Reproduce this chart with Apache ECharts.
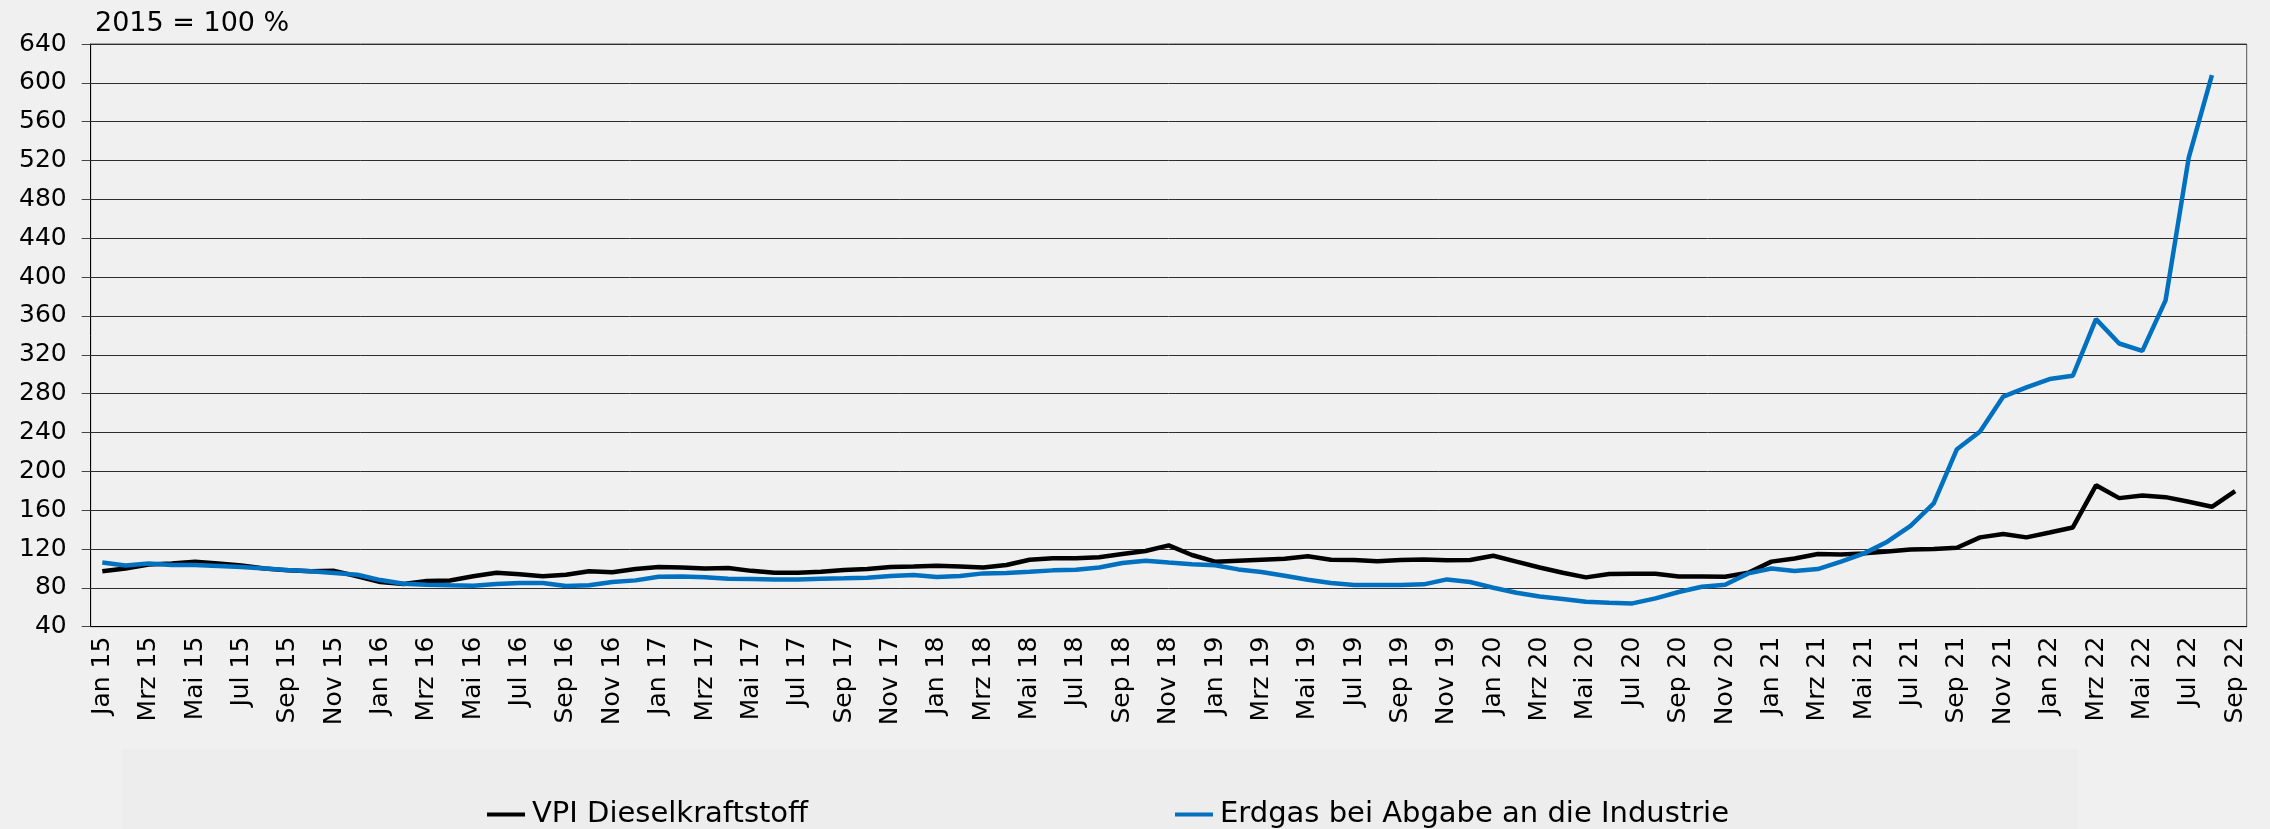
<!DOCTYPE html>
<html>
<head>
<meta charset="utf-8">
<script src="https://cdn.jsdelivr.net/npm/echarts@6/dist/echarts.min.js"></script>
<style>
  html, body { margin: 0; padding: 0; background: #f0f0f0; }
  #chart { width: 2270px; height: 829px; }
</style>
</head>
<body>
<div id="chart"></div>
<script>
const MONTHS = ['Jan', 'Feb', 'Mrz', 'Apr', 'Mai', 'Jun', 'Jul', 'Aug', 'Sep', 'Okt', 'Nov', 'Dez']
const YEARS = ['15', '16', '17', '18', '19', '20', '21', '22']

// Jan 15 .. Sep 22
const categories = []
YEARS.forEach((y, yi) => {
  MONTHS.forEach((m, mi) => {
    if (yi === YEARS.length - 1 && mi > 8) return
    categories.push(m + ' ' + y)
  })
})

const diesel = [
  97, 100, 104, 105, 107, 105, 103, 100, 98, 97, 97.5, 92,
  86, 84, 87, 87.5, 92, 95.5, 94, 92, 93.5, 97, 96, 99.5,
  101.5, 101, 100, 100.5, 97.5, 95.5, 95.5, 96.5, 98.5, 99.5, 101.5, 102,
  102.8, 102, 101, 103.5, 109, 110.5, 110.5, 111.5, 114.8, 118, 123.7, 113.8,
  107, 108, 109, 110, 112.5, 109, 108.6, 107.3, 108.6, 109.3, 108.4, 108.6,
  113, 107, 101, 95.6, 90.8, 94.2, 94.5, 94.5, 91.8, 91.8, 91.5, 95.6,
  107, 110.3, 114.8, 114.4, 115.5, 117.5, 119.6, 120, 121.3, 132, 135.4, 132,
  137, 142.2, 185.6, 172.4, 175, 173.4, 168.6, 163.5, 179.6
]

const erdgas = [
  106, 103, 105, 103.5, 103.5, 102.5, 101.4, 100, 98.4, 97, 95.3, 93.5,
  88, 84.3, 83.3, 82.6, 82.2, 83.9, 85, 85, 82, 82.6, 86, 87.7,
  91.5, 91.8, 90.8, 89.4, 89.1, 88.7, 88.7, 89.4, 89.8, 90.5, 92.2, 93.2,
  91.1, 92.2, 94.9, 95.3, 96.6, 98, 98.7, 101, 105.6, 108, 106, 104.2,
  103.2, 99, 96.3, 92.5, 88.4, 85, 83, 83, 83, 83.6, 88.7, 86,
  80.1, 75, 71, 68.5, 65.7, 64.7, 64, 69.2, 75.7, 81.2, 83.2, 94.9,
  100, 97.3, 99.3, 106.9, 115.5, 127.5, 143.9, 166.9, 222.8, 241, 277, 286.4,
  295, 298.4, 356.7, 331.6, 324, 376, 523, 608
]

const SERIES_NAMES = ['VPI Dieselkraftstoff', 'Erdgas bei Abgabe an die Industrie']
const COLORS = ['#000000', '#0070c0']
const FONT = 'DejaVu Sans'

const chart = echarts.init(document.getElementById('chart'))

const legendItem = (idx, left) => ({
  data: [SERIES_NAMES[idx]],
  left: left,
  top: 795,
  icon: 'rect',
  itemWidth: 38,
  itemHeight: 4,
  itemGap: 0,
  selectedMode: false,
  textStyle: { fontFamily: FONT, fontSize: 29, color: '#000', padding: [0, 0, 0, 2] }
})

chart.setOption({
  backgroundColor: '#f0f0f0',
  animation: false,
  title: {
    text: '2015 = 100 %',
    left: 90,
    top: 5,
    textStyle: { fontFamily: FONT, fontSize: 27, fontWeight: 'normal', color: '#000' }
  },
  graphic: [{
    type: 'rect',
    shape: { x: 122, y: 749, width: 1956, height: 80 },
    style: { fill: '#ededed' },
    z: -1
  }],
  legend: [legendItem(0, 482), legendItem(1, 1170)],
  grid: {
    left: 90.7,
    right: 23.3,
    top: 44,
    bottom: 202.3,
    show: true,
    borderColor: '#555',
    borderWidth: 1
  },
  xAxis: {
    type: 'category',
    data: categories,
    boundaryGap: true,
    axisLine: { lineStyle: { color: '#000', width: 1 } },
    axisTick: { interval: 0, length: 8, lineStyle: { color: '#666' } },
    axisLabel: {
      interval: 1,
      rotate: 90,
      margin: 10,
      fontFamily: FONT,
      fontSize: 25,
      color: '#000'
    }
  },
  yAxis: {
    type: 'value',
    min: 40,
    max: 640,
    interval: 40,
    axisLine: { show: true, lineStyle: { color: '#000', width: 1 } },
    axisTick: { show: true, length: 9, lineStyle: { color: '#444' } },
    axisLabel: { margin: 24, fontFamily: FONT, fontSize: 25, color: '#000' },
    splitLine: { lineStyle: { color: '#2e2e2e', width: 1 } }
  },
  series: [
    {
      name: SERIES_NAMES[0],
      type: 'line',
      data: diesel,
      symbol: 'none',
      lineStyle: { color: COLORS[0], width: 4.5 },
      itemStyle: { color: COLORS[0] }
    },
    {
      name: SERIES_NAMES[1],
      type: 'line',
      data: erdgas,
      symbol: 'none',
      lineStyle: { color: COLORS[1], width: 4.5 },
      itemStyle: { color: COLORS[1] }
    }
  ]
})
</script>
</body>
</html>
